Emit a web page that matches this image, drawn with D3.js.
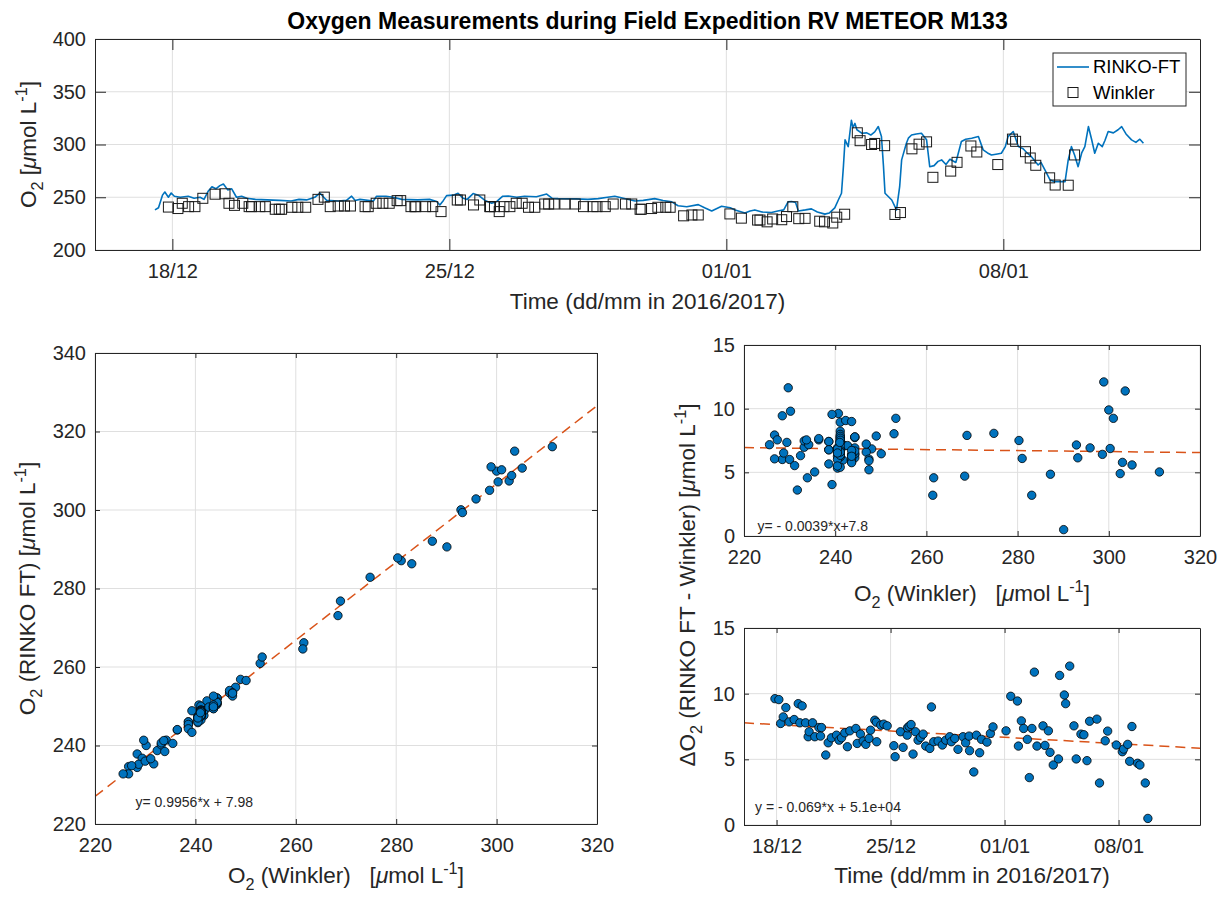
<!DOCTYPE html>
<html><head><meta charset="utf-8">
<script src="https://cdn.jsdelivr.net/npm/d3@7"></script>
<style>
body{margin:0;background:#fff}
svg{font-family:"Liberation Sans",Arial,Helvetica,sans-serif}
text{white-space:pre}
</style>
</head><body>
<svg id="c" width="1224" height="899"></svg>
<script>
// ---------------- DATA ----------------
const title = "Oxygen Measurements during Field Expedition RV METEOR M133";
const legendLabels = ["RINKO-FT", "Winkler"];

// RINKO-FT continuous record: days since 16 Dec 2016 00:00 UTC, O2 [umol/L]
const rinkoDay = [1.56,1.65,1.75,1.81,1.9,1.97,2.05,2.2,2.4,2.55,2.7,2.8,2.91,3.0,3.1,3.2,3.29,3.4,3.5,3.62,3.75,3.88,4.1,4.4,4.7,5.0,5.2,5.39,5.6,5.73,5.85,5.9,6.2,6.4,6.53,6.62,6.74,7.08,7.16,7.4,7.58,7.8,8.2,8.5,8.68,8.76,8.85,8.93,9.1,9.22,9.35,9.45,9.6,9.73,9.9,10.07,10.2,10.35,10.49,10.7,10.9,11.2,11.46,11.6,11.75,12.2,12.5,12.76,13.0,13.18,13.4,13.69,13.9,14.19,14.4,14.62,14.78,15.0,15.29,15.45,15.63,15.88,16.1,16.22,16.47,16.6,16.72,16.9,17.14,17.3,17.45,17.56,17.65,17.75,17.82,18.0,18.15,18.3,18.49,18.6,18.74,18.83,18.91,18.96,19.0,19.08,19.16,19.2,19.25,19.3,19.42,19.55,19.65,19.75,19.84,19.92,19.97,20.01,20.18,20.3,20.38,20.43,20.55,20.6,20.68,20.8,20.93,21.06,21.14,21.25,21.35,21.44,21.55,21.65,21.8,21.94,22.05,22.2,22.37,22.49,22.6,22.7,22.85,22.95,23.05,23.12,23.25,23.38,23.5,23.6,23.71,23.88,23.95,24.05,24.18,24.3,24.45,24.56,24.64,24.72,24.8,24.89,24.98,25.06,25.15,25.23,25.31,25.4,25.5,25.57,25.65,25.78,25.9,25.99,26.1,26.24,26.35,26.45,26.54];
const rinkoO2 = [238,240,252,255,250,254,251,250,251,249,250,248,256,260,258,261,262.6,257,258,250,251,249,248,247.5,247,246.5,248,247.5,250,253.8,249,247,246.5,247,251,247,248,246.5,251,251,250,248,247.5,248,246,242.7,247,251.5,252,253.8,249,248,253.5,252,247,244.3,246,251,251.2,250,251,250.5,253,249,248.7,248.5,248,248.7,250,251,249,246.5,247,248.7,247,245.6,242,241,243,240,237,241.5,240,238,235,237,238,236,235.5,237,238,245.6,246,245,237,238,239,236,234,235,240,247.4,253.8,280,304.4,298,323,316,320,314,310.7,311,309,312,317,307.5,280,253.8,247.4,238,260,285.4,301.2,306,309,310,310.7,304.4,279,280,284,285.4,281,286,283,302.8,305,306,307.5,294.9,292,290,291,291.7,298,307.5,312.3,298,296,292,288.5,280.6,283,275.9,266.4,264.8,265,264.8,285.4,298,290,279,292,298,317,305,291.7,301.2,298,304,312.3,311,314,317,310,304.4,302,305,301.2];

// Winkler samples: time (days since 16 Dec 2016), Winkler O2, and delta (RINKO - Winkler)
const sampleDay = [1.90,2.14,2.25,2.41,2.57,2.77,3.08,3.33,3.43,3.57,3.78,3.94,4.00,4.21,4.35,4.60,4.70,4.76,5.02,5.17,5.37,5.68,5.84,5.99,6.19,6.35,6.50,6.87,6.95,7.15,7.32,7.48,7.68,7.77,8.03,8.13,8.15,8.40,8.58,8.79,9.20,9.28,9.61,9.77,10.02,10.04,10.14,10.26,10.38,10.53,10.69,10.84,11.00,11.16,11.41,11.51,11.65,11.92,12.18,12.39,12.63,12.73,12.94,13.14,13.45,13.61,13.82,13.85,14.11,14.27,14.47,14.58,14.92,15.13,15.29,16.09,16.38,16.79,16.85,17.03,17.17,17.40,17.52,17.68,17.83,17.99,18.36,18.48,18.69,18.79,18.99,19.31,19.38,19.67,19.75,20.00,20.26,20.40,20.69,20.87,21.06,21.22,21.67,21.83,22.18,22.33,22.86,23.23,23.31,23.56,23.68,23.82,24.17,24.31,24.64,24.80];
const winklerO2 = [240.7,239.3,244.3,241.1,241.1,249.0,252.9,253.3,244.3,242.3,244.3,241.1,241.1,241.1,241.1,238.6,238.6,238.6,240.5,240.5,240.5,248.0,250.1,241.1,241.7,241.7,241.7,241.1,241.1,244.3,244.3,244.3,246.8,246.8,241.1,241.1,241.1,241.1,241.1,236.4,247.4,247.4,242.7,247.4,241.1,241.1,241.1,236.4,241.1,241.1,244.3,244.3,240.5,240.5,243.6,243.6,243.6,243.6,243.6,241.1,241.1,241.1,241.1,243.6,243.6,243.6,238.6,238.6,239.3,240.5,240.5,240.5,232.4,233.2,233.2,234.2,230.2,228.4,228.4,226.7,229.4,228.7,231.7,241.0,229.7,230.0,227.3,226.7,225.6,231.1,233.9,311.1,303.6,300.0,301.0,298.9,233.7,235.5,295.9,300.3,302.5,268.9,274.8,283.1,298.6,292.9,281.0,305.1,303.0,293.2,287.2,280.3,268.4,261.6,261.4,290.1];
const deltaO2 = [9.62,9.55,7.73,8.23,8.94,7.85,8.03,9.24,7.78,9.07,7.78,6.72,7.10,7.78,6.72,7.42,6.77,7.42,5.33,6.26,6.64,6.84,6.46,6.64,7.02,5.96,7.17,7.35,6.21,6.92,6.39,6.14,6.59,7.22,7.98,7.83,6.34,7.60,7.68,7.55,6.04,5.20,7.10,5.91,6.84,7.40,7.52,7.65,5.40,7.10,6.46,6.67,6.92,6.01,5.83,8.99,6.34,6.39,6.09,6.46,6.72,6.34,6.59,5.76,6.72,6.26,6.77,5.66,4.04,6.84,5.50,6.52,6.31,6.97,7.47,7.17,9.80,9.44,6.01,7.93,7.35,6.52,3.61,7.35,11.64,6.01,7.55,6.06,7.17,5.53,4.57,5.03,11.39,9.90,9.24,12.10,7.55,5.03,6.92,6.87,4.90,7.90,8.06,3.20,6.41,7.15,6.09,5.58,5.78,6.14,4.85,7.50,4.70,4.57,3.20,0.50];

// Tick values / labels
const topYTicks = [200, 250, 300, 350, 400];
const dateTickDays = [2, 9, 16, 23];
const dateTickLabels = ["18/12", "25/12", "01/01", "08/01"];
const winklerTicks = [220, 240, 260, 280, 300, 320];
const rinkoTicks = [220, 240, 260, 280, 300, 320, 340];
const deltaTicks = [0, 5, 10, 15];

// Linear fits shown in the figure
const fitRinko = {slope: 0.9956, intercept: 7.98, label: "y= 0.9956*x + 7.98"};
const fitDeltaW = {slope: -0.0039, intercept: 7.8, label: "y= - 0.0039*x+7.8"};
const fitDeltaT = {slope: -0.069, intercept: 50838.7, label: "y = - 0.069*x + 5.1e+04"}; // x = MATLAB datenum
const DATENUM_16DEC2016 = 736680;

// ---------------- HELPERS ----------------
const T0 = Date.UTC(2016, 11, 16);
const dayToDate = d => new Date(T0 + d * 86400000);
const INK = "#262626", GRID = "#dfdfdf", BLUE = "#0072BD", ORANGE = "#D95319";
const TICK_FS = 20, LABEL_FS = 22.5;
const DASH = "10,6";
const svg = d3.select("#c");

function rich(sel, parts, size) {
  let shift = 0;
  parts.forEach(([txt, kind]) => {
    const t = sel.append("tspan").text(txt);
    const target = kind === "sub" ? size * 0.32 : kind === "sup" ? -size * 0.42 : 0;
    if (target - shift !== 0) t.attr("dy", target - shift);
    shift = target;
    if (kind === "sub" || kind === "sup") t.attr("font-size", size * 0.72);
    if (kind === "it") t.attr("font-style", "italic");
  });
}

let clipId = 0;
function panel(o) {
  const g = svg.append("g").attr("transform", `translate(${o.left},${o.top})`);
  const w = o.width, h = o.height;
  o.x.range([0, w]); o.y.range([h, 0]);
  const gx = o.xTickValues.map(v => o.x(v));
  g.append("g").selectAll("line").data(gx).join("line")
    .attr("x1", d => d).attr("x2", d => d).attr("y1", 0).attr("y2", h)
    .attr("stroke", GRID).attr("stroke-width", 1);
  g.append("g").selectAll("line").data(o.yTickValues).join("line")
    .attr("x1", 0).attr("x2", w).attr("y1", d => o.y(d)).attr("y2", d => o.y(d))
    .attr("stroke", GRID).attr("stroke-width", 1);
  const id = "clip" + (clipId++);
  g.append("clipPath").attr("id", id).append("rect").attr("width", w).attr("height", h);
  const data = g.append("g").attr("clip-path", `url(#${id})`);
  const axes = svg.append("g").attr("transform", `translate(${o.left},${o.top})`);
  o.g = g; o.data = data; o.axes = axes;
  return o;
}

function finishAxes(o) {
  const tl = o.tickLen, a = o.axes, w = o.width, h = o.height;
  const bx = d3.axisBottom(o.x).tickValues(o.xTickValues).tickSizeInner(-tl).tickSizeOuter(0).tickPadding(14);
  if (o.xFormat) bx.tickFormat(o.xFormat);
  const tx = d3.axisTop(o.x).tickValues(o.xTickValues).tickSizeInner(-tl).tickSizeOuter(0).tickFormat("");
  const ly = d3.axisLeft(o.y).tickValues(o.yTickValues).tickSizeInner(-tl).tickSizeOuter(0).tickPadding(9);
  const ry = d3.axisRight(o.y).tickValues(o.yTickValues).tickSizeInner(-tl).tickSizeOuter(0).tickFormat("");
  a.append("g").attr("transform", `translate(0,${h})`).call(bx);
  a.append("g").call(tx);
  a.append("g").call(ly);
  a.append("g").attr("transform", `translate(${w},0)`).call(ry);
  a.selectAll(".domain").attr("stroke", INK).attr("stroke-width", 1);
  a.selectAll(".tick line").attr("stroke", INK).attr("stroke-width", 1);
  a.selectAll(".tick text").attr("fill", INK).attr("font-size", TICK_FS)
    .attr("font-family", '"Liberation Sans",Arial,Helvetica,sans-serif');
}

const O2unit = [[" [", null], ["\u03bc", "it"], ["mol L", null], ["-1", "sup"], ["]", null]];

// ---------------- TITLE ----------------
svg.append("text").attr("x", 647.5).attr("y", 29).attr("text-anchor", "middle")
  .attr("font-weight", "bold").attr("font-size", 23).attr("fill", "#000").text(title);

// ---------------- TOP PANEL: time series ----------------
const tsP = panel({
  left: 95, top: 39, width: 1105, height: 211, tickLen: 11,
  x: d3.scaleUtc().domain([dayToDate(0.045), dayToDate(27.97)]),
  y: d3.scaleLinear().domain([200, 400]),
  xTickValues: dateTickDays.map(dayToDate), yTickValues: topYTicks,
  xFormat: (d, i) => dateTickLabels[i]
});
tsP.data.append("path")
  .datum(rinkoDay.map((d, i) => [d, rinkoO2[i]]))
  .attr("fill", "none").attr("stroke", BLUE).attr("stroke-width", 1.6).attr("stroke-linejoin", "round")
  .attr("d", d3.line().x(d => tsP.x(dayToDate(d[0]))).y(d => tsP.y(d[1])));
tsP.data.append("g").selectAll("rect").data(sampleDay.map((d, i) => [d, winklerO2[i]])).join("rect")
  .attr("x", d => tsP.x(dayToDate(d[0])) - 5).attr("y", d => tsP.y(d[1]) - 5)
  .attr("width", 10).attr("height", 10)
  .attr("fill", "none").attr("stroke", "#1a1a1a").attr("stroke-width", 1);
finishAxes(tsP);
// legend
const lg = svg.append("g");
lg.append("rect").attr("x", 1053).attr("y", 53).attr("width", 133).attr("height", 53)
  .attr("fill", "#fff").attr("stroke", INK).attr("stroke-width", 1);
lg.append("line").attr("x1", 1057).attr("x2", 1089).attr("y1", 67).attr("y2", 67)
  .attr("stroke", BLUE).attr("stroke-width", 1.6);
lg.append("rect").attr("x", 1068).attr("y", 87.5).attr("width", 10).attr("height", 10)
  .attr("fill", "none").attr("stroke", "#1a1a1a");
lg.selectAll("text.lt").data(legendLabels).join("text")
  .attr("x", 1093).attr("y", (d, i) => 67 + i * 25.5).attr("dy", "0.35em")
  .attr("font-size", 18.5).attr("fill", "#000").text(d => d);
// labels
rich(svg.append("text").attr("text-anchor", "middle").attr("font-size", LABEL_FS).attr("fill", INK)
  .attr("x", 647.5).attr("y", 309), [["Time (dd/mm in 2016/2017)", null]], LABEL_FS);
rich(svg.append("text").attr("text-anchor", "middle").attr("font-size", LABEL_FS).attr("fill", INK)
  .attr("transform", "translate(36,144.5) rotate(-90)"), [["O", null], ["2", "sub"]].concat(O2unit), LABEL_FS);

// ---------------- BOTTOM LEFT: RINKO vs Winkler ----------------
const bl = panel({
  left: 95, top: 353, width: 502, height: 471, tickLen: 5,
  x: d3.scaleLinear().domain([220, 320]),
  y: d3.scaleLinear().domain([220, 340]),
  xTickValues: winklerTicks, yTickValues: rinkoTicks
});
bl.data.append("line")
  .attr("x1", bl.x(220)).attr("x2", bl.x(320))
  .attr("y1", bl.y(fitRinko.slope * 220 + fitRinko.intercept))
  .attr("y2", bl.y(fitRinko.slope * 320 + fitRinko.intercept))
  .attr("stroke", ORANGE).attr("stroke-width", 1.5).attr("stroke-dasharray", DASH);
bl.data.append("g").selectAll("circle").data(winklerO2.map((w, i) => [w, w + deltaO2[i]])).join("circle")
  .attr("cx", d => bl.x(d[0])).attr("cy", d => bl.y(d[1])).attr("r", 4.2)
  .attr("fill", BLUE).attr("stroke", "#000").attr("stroke-width", 0.8);
bl.g.append("text").attr("x", 40.5).attr("y", 454).attr("font-size", 14).attr("fill", INK).text(fitRinko.label);
finishAxes(bl);
rich(svg.append("text").attr("text-anchor", "middle").attr("font-size", LABEL_FS).attr("fill", INK)
  .attr("x", 346).attr("y", 883), [["O", null], ["2", "sub"], [" (Winkler)  ", null]].concat(O2unit), LABEL_FS);
rich(svg.append("text").attr("text-anchor", "middle").attr("font-size", LABEL_FS).attr("fill", INK)
  .attr("transform", "translate(35,588.5) rotate(-90)"), [["O", null], ["2", "sub"], [" (RINKO FT)", null]].concat(O2unit), LABEL_FS);

// ---------------- TOP RIGHT: delta vs Winkler ----------------
const tr = panel({
  left: 744, top: 345, width: 456, height: 191, tickLen: 5,
  x: d3.scaleLinear().domain([220, 320]),
  y: d3.scaleLinear().domain([0, 15]),
  xTickValues: winklerTicks, yTickValues: deltaTicks
});
tr.data.append("line")
  .attr("x1", tr.x(220)).attr("x2", tr.x(320))
  .attr("y1", tr.y(fitDeltaW.slope * 220 + fitDeltaW.intercept))
  .attr("y2", tr.y(fitDeltaW.slope * 320 + fitDeltaW.intercept))
  .attr("stroke", ORANGE).attr("stroke-width", 1.5).attr("stroke-dasharray", DASH);
tr.data.append("g").selectAll("circle").data(winklerO2.map((w, i) => [w, deltaO2[i]])).join("circle")
  .attr("cx", d => tr.x(d[0])).attr("cy", d => tr.y(d[1])).attr("r", 4.2)
  .attr("fill", BLUE).attr("stroke", "#000").attr("stroke-width", 0.8);
tr.g.append("text").attr("x", 13.5).attr("y", 185.5).attr("font-size", 14).attr("fill", INK).text(fitDeltaW.label);
finishAxes(tr);
rich(svg.append("text").attr("text-anchor", "middle").attr("font-size", LABEL_FS).attr("fill", INK)
  .attr("x", 972).attr("y", 601), [["O", null], ["2", "sub"], [" (Winkler)  ", null]].concat(O2unit), LABEL_FS);

// ---------------- BOTTOM RIGHT: delta vs time ----------------
const br = panel({
  left: 744, top: 628, width: 456, height: 197, tickLen: 5,
  x: d3.scaleUtc().domain([dayToDate(0), dayToDate(28)]),
  y: d3.scaleLinear().domain([0, 15]),
  xTickValues: dateTickDays.map(dayToDate), yTickValues: deltaTicks,
  xFormat: (d, i) => dateTickLabels[i]
});
const fitT = d => fitDeltaT.slope * (DATENUM_16DEC2016 + d) + fitDeltaT.intercept;
br.data.append("line")
  .attr("x1", br.x(dayToDate(0))).attr("x2", br.x(dayToDate(28)))
  .attr("y1", br.y(fitT(0))).attr("y2", br.y(fitT(28)))
  .attr("stroke", ORANGE).attr("stroke-width", 1.5).attr("stroke-dasharray", DASH);
br.data.append("g").selectAll("circle").data(sampleDay.map((d, i) => [d, deltaO2[i]])).join("circle")
  .attr("cx", d => br.x(dayToDate(d[0]))).attr("cy", d => br.y(d[1])).attr("r", 4.2)
  .attr("fill", BLUE).attr("stroke", "#000").attr("stroke-width", 0.8);
br.g.append("text").attr("x", 11).attr("y", 183.5).attr("font-size", 14).attr("fill", INK).text(fitDeltaT.label);
finishAxes(br);
rich(svg.append("text").attr("text-anchor", "middle").attr("font-size", LABEL_FS).attr("fill", INK)
  .attr("x", 972).attr("y", 883), [["Time (dd/mm in 2016/2017)", null]], LABEL_FS);

// shared y label for right panels
rich(svg.append("text").attr("text-anchor", "middle").attr("font-size", LABEL_FS).attr("fill", INK)
  .attr("transform", "translate(695,585) rotate(-90)"),
  [["\u0394O", null], ["2", "sub"], [" (RINKO FT - Winkler)", null]].concat(O2unit), LABEL_FS);
</script>
</body></html>
